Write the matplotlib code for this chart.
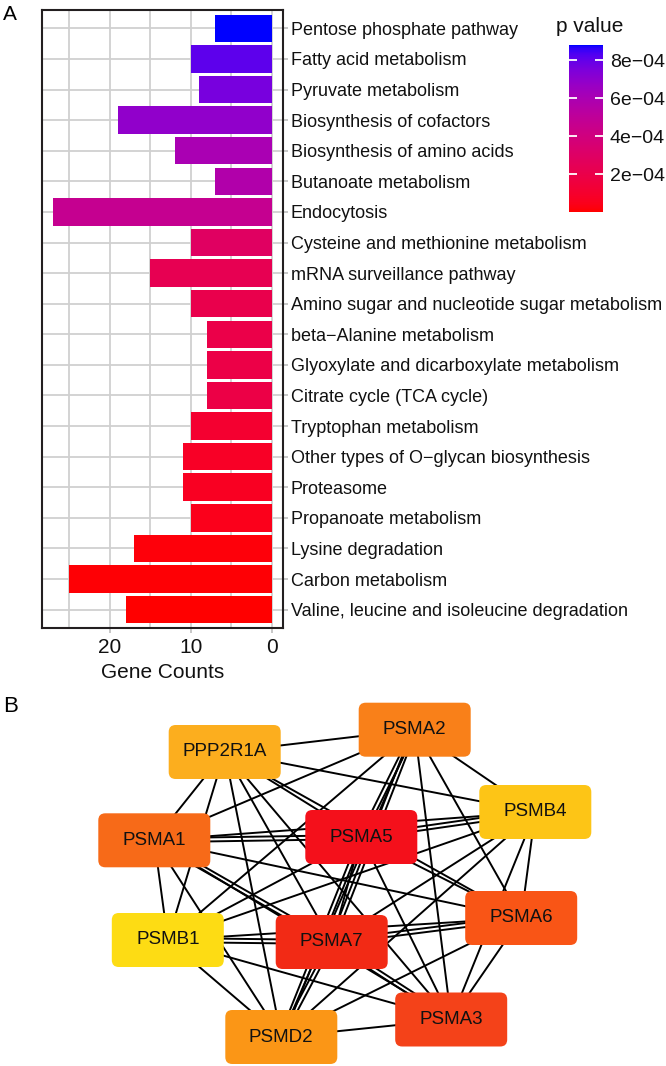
import numpy as np
import matplotlib
matplotlib.use('Agg')
import matplotlib.pyplot as plt
from matplotlib.colors import ListedColormap, Normalize
from matplotlib.cm import ScalarMappable
from matplotlib.patches import FancyBboxPatch
from matplotlib.collections import LineCollection

plt.rcParams['font.family'] = ['Liberation Sans', 'DejaVu Sans']

# ---------------- data: panel A ----------------
pathways = [
    "Pentose phosphate pathway",
    "Fatty acid metabolism",
    "Pyruvate metabolism",
    "Biosynthesis of cofactors",
    "Biosynthesis of amino acids",
    "Butanoate metabolism",
    "Endocytosis",
    "Cysteine and methionine metabolism",
    "mRNA surveillance pathway",
    "Amino sugar and nucleotide sugar metabolism",
    "beta\u2212Alanine metabolism",
    "Glyoxylate and dicarboxylate metabolism",
    "Citrate cycle (TCA cycle)",
    "Tryptophan metabolism",
    "Other types of O\u2212glycan biosynthesis",
    "Proteasome",
    "Propanoate metabolism",
    "Lysine degradation",
    "Carbon metabolism",
    "Valine, leucine and isoleucine degradation",
]
gene_counts = [7, 10, 9, 19, 12, 7, 27, 10, 15, 10, 8, 8, 8, 10, 11, 11, 10, 17, 25, 18]
p_values = [8.8e-4, 8.1e-4, 7.6e-4, 6.9e-4, 6.0e-4, 5.7e-4, 4.7e-4, 2.9e-4, 2.3e-4, 2.1e-4,
            2.0e-4, 1.9e-4, 1.85e-4, 1.1e-4, 8e-5, 7e-5, 5e-5, 2e-5, 1e-5, 3e-6]
cbar_ticks = [2e-4, 4e-4, 6e-4, 8e-4]
cbar_ticklabels = ["2e\u221204", "4e\u221204", "6e\u221204", "8e\u221204"]
x_ticks = [0, 10, 20]

# ---------------- data: panel B ----------------
genes = ['PPP2R1A', 'PSMA2', 'PSMB4', 'PSMA5', 'PSMA1', 'PSMB1', 'PSMA7', 'PSMA6', 'PSMA3', 'PSMD2']
node_x = [224.7, 414.7, 535.3, 361.3, 154.3, 167.8, 331.7, 521.2, 451.2, 281.3]
node_y = [752.0, 729.7, 812.0, 837.0, 840.3, 940.0, 942.0, 918.0, 1019.5, 1037.0]
node_colors = ['#FCAE1E', '#F98019', '#FDC516', '#F4101B', '#F76A18',
               '#FDDC14', '#F22A15', '#F95516', '#F44219', '#FB9616']
edges = [
    ('PPP2R1A', 'PSMA2', 1), ('PPP2R1A', 'PSMB4', 1), ('PPP2R1A', 'PSMA5', 1),
    ('PPP2R1A', 'PSMA1', 1), ('PPP2R1A', 'PSMB1', 1), ('PPP2R1A', 'PSMA7', 1),
    ('PPP2R1A', 'PSMA6', 1), ('PPP2R1A', 'PSMA3', 1), ('PPP2R1A', 'PSMD2', 1),
    ('PSMA2', 'PSMB4', 1), ('PSMA2', 'PSMA5', 2), ('PSMA2', 'PSMA1', 1),
    ('PSMA2', 'PSMB1', 1), ('PSMA2', 'PSMA7', 2), ('PSMA2', 'PSMA6', 1),
    ('PSMA2', 'PSMA3', 1), ('PSMA2', 'PSMD2', 1),
    ('PSMB4', 'PSMA5', 2), ('PSMB4', 'PSMA1', 1), ('PSMB4', 'PSMB1', 1),
    ('PSMB4', 'PSMA7', 1), ('PSMB4', 'PSMA6', 1), ('PSMB4', 'PSMA3', 1),
    ('PSMB4', 'PSMD2', 1),
    ('PSMA5', 'PSMA1', 2), ('PSMA5', 'PSMB1', 1), ('PSMA5', 'PSMA7', 1),
    ('PSMA5', 'PSMA6', 1), ('PSMA5', 'PSMA3', 1), ('PSMA5', 'PSMD2', 2),
    ('PSMA1', 'PSMB1', 1), ('PSMA1', 'PSMA7', 2), ('PSMA1', 'PSMA6', 1),
    ('PSMA1', 'PSMA3', 1), ('PSMA1', 'PSMD2', 1),
    ('PSMB1', 'PSMA7', 2), ('PSMB1', 'PSMA6', 1), ('PSMB1', 'PSMA3', 1),
    ('PSMB1', 'PSMD2', 1),
    ('PSMA7', 'PSMA6', 2), ('PSMA7', 'PSMA3', 2), ('PSMA7', 'PSMD2', 2),
    ('PSMA6', 'PSMA3', 1), ('PSMA6', 'PSMD2', 1),
    ('PSMA3', 'PSMD2', 1),
]

# ---------------- Lab gradient (like ggplot2 scale_fill_gradient) ----------------
def srgb_to_lab(rgb):
    rgb = np.asarray(rgb, float)
    lin = np.where(rgb <= 0.04045, rgb / 12.92, ((rgb + 0.055) / 1.055) ** 2.4)
    M = np.array([[0.4124564, 0.3575761, 0.1804375],
                  [0.2126729, 0.7151522, 0.0721750],
                  [0.0193339, 0.1191920, 0.9503041]])
    xyz = M @ lin
    wp = np.array([0.95047, 1.0, 1.08883])
    t = xyz / wp
    d = 6 / 29
    f = np.where(t > d ** 3, np.cbrt(t), t / (3 * d * d) + 4 / 29)
    return np.array([116 * f[1] - 16, 500 * (f[0] - f[1]), 200 * (f[1] - f[2])])


def lab_to_srgb(lab):
    L, a, b = lab
    fy_ = (L + 16) / 116
    fx_ = fy_ + a / 500
    fz_ = fy_ - b / 200
    d = 6 / 29
    def finv(f):
        return np.where(f > d, f ** 3, 3 * d * d * (f - 4 / 29))
    wp = np.array([0.95047, 1.0, 1.08883])
    xyz = np.array([finv(fx_), finv(fy_), finv(fz_)]) * wp
    Minv = np.array([[3.2404542, -1.5371385, -0.4985314],
                     [-0.9692660, 1.8760108, 0.0415560],
                     [0.0556434, -0.2040259, 1.0572252]])
    lin = Minv @ xyz
    lin = np.clip(lin, 0, 1)
    rgb = np.where(lin <= 0.0031308, 12.92 * lin, 1.055 * lin ** (1 / 2.4) - 0.055)
    return np.clip(rgb, 0, 1)


lab_lo = srgb_to_lab([1, 0, 0])
lab_hi = srgb_to_lab([0, 0, 1])
cols = [lab_to_srgb(lab_lo + (lab_hi - lab_lo) * t) for t in np.linspace(0, 1, 256)]
cmap = ListedColormap(cols)
norm = Normalize(vmin=min(p_values), vmax=max(p_values))

# ---------------- figure ----------------
W, H = 666, 1066
fig = plt.figure(figsize=(W / 100, H / 100), dpi=100)

ax = fig.add_axes([42 / W, 1 - 628 / H, (283 - 42) / W, (628 - 10) / H])
ypos = np.arange(len(pathways))
ax.barh(ypos, gene_counts, height=0.9, color=cmap(norm(p_values)), zorder=2)
ax.set_ylim(len(pathways) - 1 + 0.6, -0.6)
ax.set_xlim(max(gene_counts) * 1.05, -max(gene_counts) * 0.05)
ax.set_xticks(x_ticks)
ax.set_xticks([5, 15, 25], minor=True)
ax.set_yticks(ypos)
ax.set_yticklabels(pathways)
ax.yaxis.tick_right()
ax.set_axisbelow(True)
ax.grid(which='major', axis='both', color='#D0D0D0', lw=1.3)
ax.grid(which='minor', axis='x', color='#D0D0D0', lw=1.3)
ax.tick_params(axis='y', length=3.5, width=1.2, color='#BEBEBE', pad=2, labelsize=13,
               labelcolor='#111111')
ax.tick_params(axis='x', which='major', length=3.5, width=1.2, color='#BEBEBE', pad=4,
               labelsize=15, labelcolor='#111111')
ax.tick_params(axis='x', which='minor', length=0)
for s in ax.spines.values():
    s.set_color('#231F20')
    s.set_linewidth(1.5)
ax.set_xlabel('Gene Counts', fontsize=15, color='#111111', labelpad=4)

# colorbar
cax = fig.add_axes([569 / W, 1 - 212 / H, 34 / W, (212 - 45) / H])
sm = ScalarMappable(norm=norm, cmap=cmap)
cb = fig.colorbar(sm, cax=cax)
cb.outline.set_visible(False)
cb.set_ticks(cbar_ticks)
cb.set_ticklabels(cbar_ticklabels)
cax.tick_params(axis='y', direction='in', length=6, width=1.3, color='white',
                left=True, right=True, labelsize=14, pad=5, labelcolor='#111111')
fig.text(590 / W, 1 - 32 / H, 'p value', fontsize=15, ha='center', va='baseline',
         color='#111111')

# panel labels
fig.text(3 / W, 1 - 14 / H, 'A', fontsize=15, va='center', ha='left')
fig.text(3 / W, 1 - 706 / H, 'B', fontsize=16, va='center', ha='left')

# ---------------- network ----------------
ax2 = fig.add_axes([0, 0, 1, (H - 690) / H])
ax2.set_xlim(0, W)
ax2.set_ylim(H, 690)
ax2.axis('off')

idx = {g: i for i, g in enumerate(genes)}
segs = []
for a, b, m in edges:
    x0, y0 = node_x[idx[a]], node_y[idx[a]]
    x1, y1 = node_x[idx[b]], node_y[idx[b]]
    dx, dy = x1 - x0, y1 - y0
    L = np.hypot(dx, dy)
    px, py = -dy / L, dx / L
    for k in range(m):
        off = (k - (m - 1) / 2) * 4.0
        segs.append([(x0 + px * off, y0 + py * off), (x1 + px * off, y1 + py * off)])
ax2.add_collection(LineCollection(segs, colors='black', linewidths=1.4, zorder=1))

bw, bh = 112, 54
for g, x, y, c in zip(genes, node_x, node_y, node_colors):
    ax2.add_patch(FancyBboxPatch((x - bw / 2, y - bh / 2), bw, bh,
                                 boxstyle='round,pad=0,rounding_size=7',
                                 fc=c, ec='none', zorder=3))
    ax2.text(x, y, g, ha='center', va='center', fontsize=13.5, color='#111111', zorder=4)

fig.savefig('out.png', dpi=100)
